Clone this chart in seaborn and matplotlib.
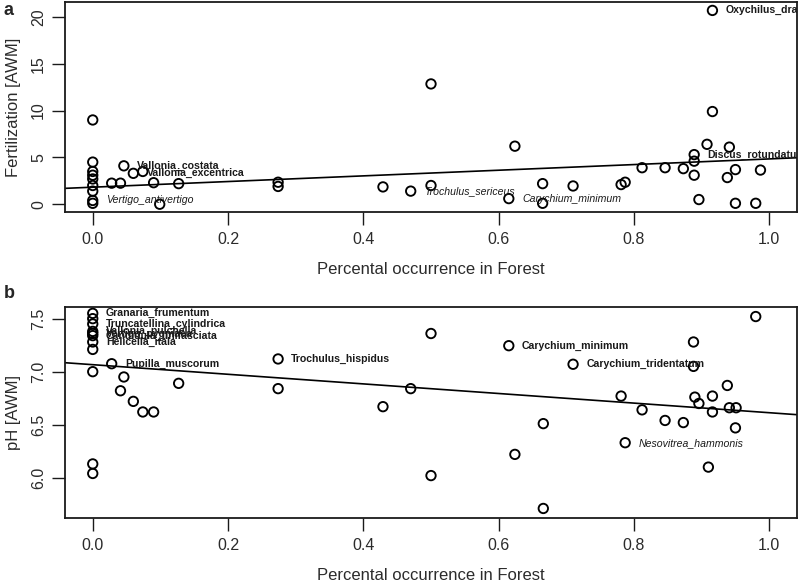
import numpy as np
import pandas as pd
import matplotlib
matplotlib.use("Agg")
import matplotlib.pyplot as plt
import seaborn as sns

# ---------------- data ----------------
# Panel a: Fertilization
x_a = [0, 0, 0, 0, 0, 0, 0, 0, 0,
       0.028, 0.041, 0.046, 0.060, 0.074, 0.090, 0.099, 0.127,
       0.274, 0.274, 0.429, 0.470, 0.500, 0.500, 0.615, 0.624,
       0.665, 0.665, 0.710, 0.781, 0.787, 0.812, 0.846, 0.873,
       0.889, 0.889, 0.889, 0.896, 0.908, 0.916, 0.916, 0.938,
       0.941, 0.950, 0.950, 0.980, 0.987]
y_a = [9.0, 4.5, 3.5, 3.1, 2.7, 2.0, 1.4, 0.4, 0.1,
       2.25, 2.25, 4.1, 3.3, 3.5, 2.3, 0.0, 2.2,
       2.35, 1.9, 1.85, 1.4, 12.85, 2.0, 0.6, 6.2,
       2.2, 0.1, 1.95, 2.1, 2.35, 3.9, 3.9, 3.8,
       3.1, 4.6, 5.3, 0.5, 6.4, 20.7, 9.9, 2.85,
       6.1, 3.7, 0.1, 0.1, 3.65]
fit_a = [1.82, 3.02]  # intercept, slope

lab_a_name = ["Vallonia_costata", "Vallonia_excentrica", "Vertigo_antivertigo",
              "Trochulus_sericeus", "Carychium_minimum", "Discus_rotundatus",
              "Oxychilus_draparnaudi"]
lab_a_x = [0.046, 0.060, 0.0, 0.470, 0.615, 0.889, 0.916]
lab_a_y = [4.1, 3.3, 0.4, 1.4, 0.6, 5.3, 20.7]
lab_a_style = ["bold", "bold", "italic", "italic", "italic", "bold", "bold"]

# Panel b: pH
x_b = [0, 0, 0, 0, 0, 0, 0, 0, 0, 0, 0,
       0.028, 0.046, 0.041, 0.060, 0.074, 0.090, 0.127,
       0.274, 0.274, 0.429, 0.470, 0.500, 0.500, 0.615, 0.624,
       0.666, 0.666, 0.710, 0.781, 0.787, 0.812, 0.846, 0.873,
       0.888, 0.888, 0.890, 0.896, 0.910, 0.916, 0.916, 0.938,
       0.941, 0.951, 0.950, 0.980]
y_b = [7.55, 7.50, 7.45, 7.38, 7.36, 7.34, 7.28, 7.21, 7.00, 6.13, 6.04,
       7.075, 6.95, 6.82, 6.72, 6.62, 6.62, 6.89,
       7.12, 6.84, 6.67, 6.84, 7.36, 6.02, 7.245, 6.22,
       6.51, 5.71, 7.07, 6.77, 6.33, 6.64, 6.54, 6.52,
       7.28, 7.05, 6.76, 6.70, 6.10, 6.77, 6.62, 6.87,
       6.66, 6.66, 6.47, 7.52]
fit_b = [7.066, -0.453]

lab_b_name = ["Granaria_frumentum", "Truncatellina_cylindrica", "Vallonia_pulchella",
              "Vertigo_pygmaea", "Candidula_unifasciata", "Helicella_itala",
              "Pupilla_muscorum", "Trochulus_hispidus", "Carychium_minimum",
              "Carychium_tridentatum", "Nesovitrea_hammonis"]
lab_b_x = [0, 0, 0, 0, 0, 0, 0.028, 0.274, 0.615, 0.710, 0.787]
lab_b_y = [7.55, 7.45, 7.38, 7.36, 7.34, 7.28, 7.075, 7.12, 7.245, 7.07, 6.33]
lab_b_style = ["bold"] * 10 + ["italic"]

x_ticks = [0.0, 0.2, 0.4, 0.6, 0.8, 1.0]
y_ticks_a = [0, 5, 10, 15, 20]
y_ticks_b = [6.0, 6.5, 7.0, 7.5]
x_label = "Percental occurrence in Forest"
y_label_a = "Fertilization [AWM]"
y_label_b = "pH [AWM]"

# ---------------- style ----------------
sns.set_style("white")
plt.rcParams["font.family"] = ["Liberation Sans", "DejaVu Sans"]
TXT = "#2b2b2b"

fig = plt.figure(figsize=(8, 5.84), dpi=100)
L, R = 65 / 800, 797 / 800
ax_a = fig.add_axes([L, 1 - 212 / 584, R - L, 210 / 584])
ax_b = fig.add_axes([L, 1 - 518 / 584, R - L, 211 / 584])


def panel(ax, xs, ys, fit, names, lx, ly, styles, yticks, ylim, ylabel, tickfmt):
    df = pd.DataFrame({"x": xs, "y": ys})
    sns.scatterplot(data=df, x="x", y="y", ax=ax, marker="o", s=46,
                    facecolor="none", edgecolor="black", linewidth=1.35,
                    zorder=3, clip_on=False)
    ax.axline((0, fit[0]), slope=fit[1], color="black", lw=1.2, zorder=2)
    for n, x, y, st in zip(names, lx, ly, styles):
        t = ax.annotate(n, (x, y), xytext=(9.5, 0), textcoords="offset points",
                        ha="left", va="center", fontsize=7.6,
                        fontweight="bold" if st == "bold" else "normal",
                        fontstyle="italic" if st == "italic" else "normal",
                        color="#1a1a1a", zorder=4)
        t.set_clip_path(ax.patch)
    ax.set_xlim(-0.041, 1.041)
    ax.set_ylim(*ylim)
    ax.set_xticks(x_ticks)
    ax.set_xticklabels([f"{v:.1f}" for v in x_ticks])
    ax.set_yticks(yticks)
    ax.set_yticklabels([tickfmt(v) for v in yticks])
    for s in ax.spines.values():
        s.set_visible(True)
        s.set_color("#1a1a1a")
        s.set_linewidth(1.3)
    ax.tick_params(axis="both", direction="out", length=9.5, width=1.0,
                   color="#1a1a1a", labelsize=11.5, labelcolor=TXT, pad=5,
                   bottom=True, left=True)
    ax.tick_params(axis="y", labelrotation=90, pad=4)
    for lbl in ax.get_yticklabels():
        lbl.set_va("center")
    ax.set_xlabel(x_label, fontsize=12, color=TXT)
    ax.xaxis.set_label_coords(0.5, -50 / 210)
    ax.set_ylabel(ylabel, fontsize=12, color=TXT)
    ax.yaxis.set_label_coords(-44 / 732, 0.5)
    ax.grid(False)


panel(ax_a, x_a, y_a, fit_a, lab_a_name, lab_a_x, lab_a_y, lab_a_style,
      y_ticks_a, (-0.83, 21.6), y_label_a, lambda v: f"{v:d}")
panel(ax_b, x_b, y_b, fit_b, lab_b_name, lab_b_x, lab_b_y, lab_b_style,
      y_ticks_b, (5.62, 7.61), y_label_b, lambda v: f"{v:.1f}")

fig.text(4 / 800, 1 - 2 / 584, "a", fontsize=13, fontweight="bold", va="top", ha="left")
fig.text(4 / 800, 1 - 285 / 584, "b", fontsize=13, fontweight="bold", va="top", ha="left")

fig.savefig("out.png", dpi=100)
